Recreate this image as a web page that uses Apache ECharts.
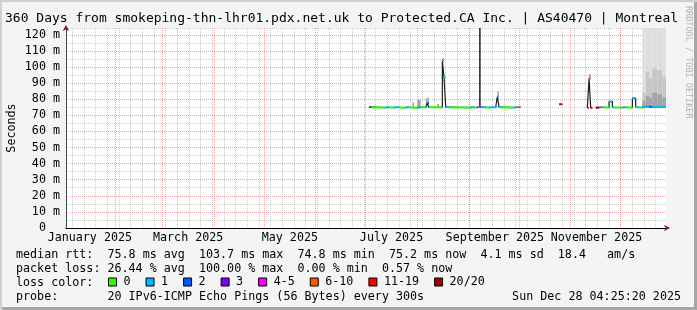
<!DOCTYPE html>
<html>
<head>
<meta charset="utf-8">
<script src="https://cdn.jsdelivr.net/npm/echarts@6/dist/echarts.min.js"></script>
<style>
  html, body { margin: 0; padding: 0; }
  #main {
    width: 697px; height: 310px; background: #f4f4f4;
    box-shadow: inset 2px 2px 0 #d0d0d0, inset -3px -3px 0 #a6a6a6;
  }
</style>
</head>
<body>
<div id="main"></div>
<script>
// 360 days, ending Sun Dec 28 04:25:20 2025
var startTime = Date.UTC(2025, 0, 2, 4, 25, 20);
var endTime = Date.UTC(2025, 11, 28, 4, 25, 20);
var yMax = 124.2;

var monthNames = ['January', 'February', 'March', 'April', 'May', 'June', 'July',
  'August', 'September', 'October', 'November', 'December'];
var labelMonths = [0, 2, 4, 6, 8, 10];   // every other month gets a label

// loss buckets (out of 20 pings)
var lossNames = ['0', '1', '2', '3', '4-5', '6-10', '11-19', '20/20'];
var lossUpper = [0, 1, 2, 3, 5, 10, 19, 20];
var lossColors = ['#26ff00', '#00b8ff', '#0059ff', '#7e00ff', '#ff00ff', '#ff5500', '#ff0000', '#a10000'];

// each run lasts until the next start (last one until endTime)
var runStart = [
  '2025-07-03', '2025-07-04', '2025-07-13', '2025-07-15', '2025-07-18', '2025-07-21', '2025-07-25', '2025-07-27', '2025-07-29', '2025-07-30',
  '2025-08-01', '2025-08-03', '2025-08-06', '2025-08-07', '2025-08-08', '2025-08-13', '2025-08-14', '2025-08-16', '2025-08-17', '2025-08-18',
  '2025-08-20', '2025-09-02', '2025-09-04', '2025-09-06', '2025-09-07', '2025-09-08', '2025-09-11', '2025-09-13', '2025-09-17', '2025-09-18',
  '2025-09-19', '2025-09-20', '2025-09-28', '2025-09-30', '2025-10-02', '2025-10-25', '2025-10-27', '2025-11-11', '2025-11-12', '2025-11-13',
  '2025-11-14', '2025-11-16', '2025-11-18', '2025-11-19', '2025-11-21', '2025-11-24', '2025-11-26', '2025-11-27', '2025-12-02', '2025-12-04',
  '2025-12-08', '2025-12-10', '2025-12-11', '2025-12-12', '2025-12-14', '2025-12-16', '2025-12-18', '2025-12-20', '2025-12-23', '2025-12-26'
];
// median rtt in ms (null = no data)
var runMedian = [
  75.2, 74.8, 75.0, 74.8, 75.0, 74.7, 75.0, 74.8, 74.8, 74.8,
  74.9, 75.0, 75.2, 77.6, 75.0, 75.1, 74.9, 104.0, 93.5, 75.1,
  74.8, 75.0, 74.8, 75.2, 75.3, 75.0, 74.8, 75.0, 75.4, 81.6,
  75.2, 74.8, 75.0, 75.2, null, 76.8, null, 74.6, 93.0, 74.6,
  null, 74.8, 75.0, 75.0, 74.8, 78.5, 75.0, 74.8, 75.0, 74.8,
  80.5, 75.0, 75.0, 74.8, 75.2, 75.4, 75.3, 75.2, 75.3, 75.2
];
// lost pings
var runLoss = [
  2, 0, 1, 0, 1, 0, 1, 0, 0, 0,
  1, 0, 1, 2, 0, 0, 0, 1, 1, 1,
  0, 1, 0, 5, 5, 1, 0, 1, 1, 1,
  1, 0, 1, 8, 0, 15, 0, 15, 8, 15,
  0, 20, 8, 1, 0, 1, 1, 0, 1, 0,
  1, 0, 1, 0, 1, 1, 2, 1, 1, 1
];
// smoke tops (ms), light to dark
var smokeOuter = [
  null, null, null, null, null, null, null, null, null, null,
  null, null, null, null, null, null, null, null, null, null,
  null, null, null, null, null, null, null, null, null, null,
  null, null, null, null, null, null, null, null, null, null,
  null, null, null, null, null, null, null, null, null, null,
  null, null, null, null, 130, 130, 130, 130, 130, 130
];
var smokeMid = [
  null, null, null, null, null, null, null, null, null, null,
  null, null, null, null, null, null, null, null, null, null,
  null, null, null, null, null, null, null, null, null, null,
  null, null, null, null, null, null, null, null, null, null,
  null, null, null, null, null, null, null, null, null, null,
  null, null, null, null, 84, 97, 93, 99, 98, 94
];
var smokeInner = [
  null, null, null, null, null, null, null, null, 78, null,
  79.5, null, 80.5, 81, null, 77, null, 105.5, null, null,
  null, null, null, null, null, null, null, null, null, 84.7,
  null, null, null, null, null, null, null, null, 95.6, null,
  null, null, null, null, null, 79, null, null, null, null,
  81, null, null, null, 79, 82, 81, 84, 83, 81
];
var smokeCore = [
  null, null, null, null, null, null, null, null, null, null,
  null, null, null, null, null, null, null, null, null, null,
  null, null, null, null, 130, null, null, null, null, null,
  null, null, null, null, null, null, null, null, null, null,
  null, null, null, null, null, null, null, null, null, null,
  null, null, null, null, null, null, null, null, null, null
];
var smokeColors = ['#dedede', '#c6c6c6', '#a4a4a4', '#383838'];

var mono = 'DejaVu Sans Mono';
var redGrid = 'rgba(235,90,90,0.55)';
var greyGrid = 'rgba(150,150,150,0.5)';

var ts = runStart.map(function (d) { return +new Date(d + 'T00:00:00Z'); });
function runEnd(i) { return i + 1 < ts.length ? ts[i + 1] : endTime; }
function bucketOf(loss) {
  for (var b = 0; b < lossUpper.length; b++) if (loss <= lossUpper[b]) return b;
  return lossUpper.length - 1;
}

// grid positions (x axis is plain ms timestamps)
var monthStarts = [];
for (var m = 1; m < 12; m++) monthStarts.push(Date.UTC(2025, m, 1));
var labelTimes = labelMonths.map(function (m) { return Date.UTC(2025, m, 16, 12); });
var weekLines = [];
for (var t = Date.UTC(2025, 0, 6); t < endTime; t += 7 * 86400000) weekLines.push(t);

// smoke items
var smokeData = [];
ts.forEach(function (t, i) {
  var med = runMedian[i];
  if (med == null) return;
  var lv = [smokeOuter[i], smokeMid[i], smokeInner[i], smokeCore[i]];
  if (lv.every(function (v) { return v == null; })) return;
  smokeData.push([t, runEnd(i), med].concat(lv.map(function (v) { return v == null ? med : v; })));
});

function renderSmoke(params, api) {
  var x0 = api.coord([api.value(0), 0])[0];
  var x1 = api.coord([api.value(1), 0])[0];
  var base = api.value(2);
  var yBot = api.coord([api.value(0), base])[1];
  var children = [];
  for (var k = 0; k < smokeColors.length; k++) {
    var hi = Math.min(api.value(3 + k), yMax);
    if (!(hi > base)) continue;
    var yTop = api.coord([api.value(0), hi])[1];
    children.push({
      type: 'rect',
      shape: { x: x0, y: yTop, width: x1 - x0, height: yBot - yTop },
      style: { fill: smokeColors[k] }
    });
  }
  return { type: 'group', children: children };
}

// dark connecting step line through all medians
var stepData = ts.map(function (t, i) { return [t, runMedian[i]]; });

// colored median segments, one series per loss bucket
var lossSeries = lossNames.map(function (name, b) {
  var data = [];
  ts.forEach(function (t, i) {
    if (runMedian[i] == null || bucketOf(runLoss[i]) !== b) return;
    data.push([t, runMedian[i]], [runEnd(i), runMedian[i]], [runEnd(i), null]);
  });
  return {
    name: name, type: 'line', xAxisIndex: 1, yAxisIndex: 1,
    color: lossColors[b], symbol: 'none', connectNulls: false,
    lineStyle: { width: 2, color: lossColors[b], cap: 'butt' },
    emphasis: { disabled: true }, z: 4, data: data
  };
});

var chart = echarts.init(document.getElementById('main'));
chart.setOption({
  animation: false,
  grid: { left: 66, top: 28, width: 600, height: 200, show: true, backgroundColor: '#fff', borderWidth: 0,
    outerBoundsMode: 'none' },
  xAxis: [{
    // weekly minor grid + red arrow
    type: 'value', min: startTime, max: endTime, position: 'bottom',
    axisLine: { show: true, onZero: false, symbol: ['none', 'arrow'], symbolSize: [5, 6], symbolOffset: [0, 4],
      lineStyle: { color: '#8b1a1a' } },
    axisTick: { show: false, customValues: weekLines },
    axisLabel: { show: false },
    splitLine: { show: true, lineStyle: { color: greyGrid, type: [1, 1], width: 1 } }
  }, {
    // monthly major grid + labels
    type: 'value', min: startTime, max: endTime, position: 'bottom',
    axisLine: { show: true, onZero: false, lineStyle: { color: '#000', width: 1 } },
    axisTick: { show: false, customValues: monthStarts },
    axisLabel: {
      customValues: labelTimes, margin: 4, color: '#000', fontFamily: mono, fontSize: 11.7,
      formatter: function (v) { var d = new Date(v); return monthNames[d.getUTCMonth()] + ' ' + d.getUTCFullYear(); }
    },
    splitLine: { show: true, lineStyle: { color: redGrid, type: [1, 1], width: 1 } }
  }],
  yAxis: [{
    type: 'value', min: 0, max: yMax, position: 'left',
    axisLine: { show: true, onZero: false, symbol: ['none', 'arrow'], symbolSize: [5, 6], symbolOffset: [0, 3],
      lineStyle: { color: '#8b1a1a' } },
    axisTick: { show: false }, axisLabel: { show: false }, splitLine: { show: false }
  }, {
    type: 'value', min: 0, max: yMax, interval: 5, position: 'left',
    name: 'Seconds', nameLocation: 'middle', nameGap: 48, nameMoveOverlap: false,
    nameTextStyle: { fontFamily: mono, fontSize: 11.7, color: '#000' },
    axisLine: { show: true, onZero: false, lineStyle: { color: '#444' } },
    axisTick: { show: false },
    axisLabel: {
      margin: 6, color: '#000', fontFamily: mono, fontSize: 11.7,
      formatter: function (v) {
        if (v % 10 !== 0) return '';
        return v === 0 ? '0  ' : v + ' m';
      }
    },
    splitLine: { show: true, lineStyle: { color: [redGrid, greyGrid], type: [1, 1], width: 1 } }
  }],
  legend: {
    data: lossNames.map(function (n) { return { name: n, icon: 'rect' }; }),
    left: 103, top: 271, itemWidth: 8, itemHeight: 8, itemGap: 15,
    selectedMode: false,
    itemStyle: { borderColor: '#000', borderWidth: 1 },
    textStyle: { fontFamily: mono, fontSize: 11.7, color: '#000', padding: [0, 0, 0, 2] }
  },
  graphic: [
    { type: 'text', x: 5, y: 19, style: { text: '360 Days from smokeping-thn-lhr01.pdx.net.uk to Protected.CA Inc. | AS40470 | Montreal',
      fontFamily: mono, fontSize: 13, fill: '#000', verticalAlign: 'middle' } },
    { type: 'text', x: 688, y: 6, rotation: -Math.PI / 2, style: { text: 'RRDTOOL / TOBI OETIKER',
      fontFamily: mono, fontSize: 8.5, fill: '#b4b4b4', verticalAlign: 'middle' } },
    { type: 'text', x: 16, y: 255, style: { text: 'median rtt:  75.8 ms avg  103.7 ms max  74.8 ms min  75.2 ms now  4.1 ms sd  18.4   am/s',
      fontFamily: mono, fontSize: 11.7, fill: '#000', verticalAlign: 'middle' } },
    { type: 'text', x: 16, y: 269, style: { text: 'packet loss: 26.44 % avg  100.00 % max  0.00 % min  0.57 % now',
      fontFamily: mono, fontSize: 11.7, fill: '#000', verticalAlign: 'middle' } },
    { type: 'text', x: 16, y: 283, style: { text: 'loss color:',
      fontFamily: mono, fontSize: 11.7, fill: '#000', verticalAlign: 'middle' } },
    { type: 'text', x: 16, y: 297, style: { text: 'probe:       20 IPv6-ICMP Echo Pings (56 Bytes) every 300s',
      fontFamily: mono, fontSize: 11.7, fill: '#000', verticalAlign: 'middle' } },
    { type: 'text', x: 681, y: 297, style: { text: 'Sun Dec 28 04:25:20 2025',
      fontFamily: mono, fontSize: 11.7, fill: '#000', verticalAlign: 'middle', align: 'right' } }
  ],
  series: [{
    name: 'smoke', type: 'custom', xAxisIndex: 1, yAxisIndex: 1, z: 2,
    renderItem: renderSmoke, encode: { x: [0, 1], y: [2, 3, 4, 5, 6] },
    silent: true, data: smokeData
  }, {
    name: 'median', type: 'line', xAxisIndex: 1, yAxisIndex: 1, z: 3,
    step: 'end', symbol: 'none', connectNulls: false, silent: true,
    lineStyle: { color: '#1e1e1e', width: 1.2 }, data: stepData
  }].concat(lossSeries)
});
</script>
</body>
</html>
